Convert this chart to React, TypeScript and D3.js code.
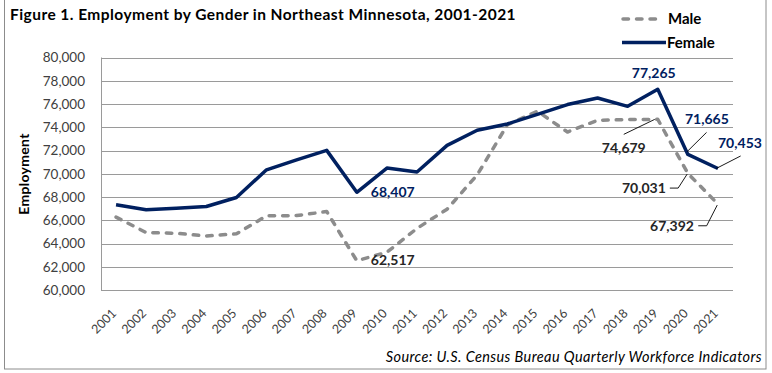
import React, { useRef, useEffect } from "react";
import * as d3 from "d3";

const WIDTH = 772;
const HEIGHT = 373;
const MARGIN = { top: 57.5, right: 39, bottom: 83, left: 101 };

const YEARS = [
  "2001", "2002", "2003", "2004", "2005", "2006", "2007", "2008", "2009", "2010", "2011",
  "2012", "2013", "2014", "2015", "2016", "2017", "2018", "2019", "2020", "2021",
];
const MALE = [
  66270, 64940, 64880, 64650, 64830, 66380, 66400, 66750, 62517, 63250, 65300,
  66950, 69900, 74200, 75380, 73590, 74600, 74660, 74679, 70031, 67392,
];
const FEMALE = [
  67330, 66900, 67040, 67180, 67960, 70340, 71200, 72010, 68407, 70490, 70150,
  72440, 73740, 74280, 75110, 75950, 76520, 75800, 77265, 71665, 70453,
];
const Y_TICKS = [60000, 62000, 64000, 66000, 68000, 70000, 72000, 74000, 76000, 78000, 80000];

const COLOR_FEMALE = "#002060";
const COLOR_MALE = "#8c8c8c";
const COLOR_GRID = "#9a9a9a";
const COLOR_TEXT = "#404040";
const FONT = "Lato, 'Open Sans', sans-serif";

// data labels: which point, then where the text and its leader sit relative to it
const LABELS = [
  { series: "female", year: "2019", dx: -4, dy: -11, anchor: "middle", leader: null },
  { series: "female", year: "2009", dx: 14, dy: 4.5, anchor: "start", leader: null },
  { series: "male", year: "2009", dx: 14, dy: 4, anchor: "start", leader: null },
  { series: "male", year: "2019", dx: -12, dy: 33.5, anchor: "end", leader: [[-34, 15], [-3, 0]] },
  { series: "male", year: "2020", dx: -22, dy: 20, anchor: "end", leader: [[-18, 14.7], [-9.7, 14.7], [-0.7, 0.7]] },
  { series: "male", year: "2021", dx: -24, dy: 26.7, anchor: "end", leader: [[-19.7, 21.7], [-11.3, 21.7], [-0.7, 1]] },
  { series: "female", year: "2020", dx: 19, dy: -30, anchor: "middle", leader: [[18.7, -22], [-0.7, -2.8]] },
  { series: "female", year: "2021", dx: 22, dy: -20, anchor: "middle", leader: [[22.7, -12.5], [-1.7, 0]] },
];

export default function App() {
  const ref = useRef<SVGSVGElement>(null);

  useEffect(() => {
    const svg = d3.select(ref.current);
    svg.selectAll("*").remove();

    const innerWidth = WIDTH - MARGIN.left - MARGIN.right;
    const innerHeight = HEIGHT - MARGIN.top - MARGIN.bottom;

    const x = d3.scaleBand().domain(YEARS).range([MARGIN.left, MARGIN.left + innerWidth]);
    const y = d3.scaleLinear().domain([60000, 80000]).range([MARGIN.top + innerHeight, MARGIN.top]);
    const cx = (yr: string) => (x(yr) as number) + x.bandwidth() / 2;

    svg
      .append("rect")
      .attr("x", 4.5)
      .attr("y", -1)
      .attr("width", 761.5)
      .attr("height", 370)
      .attr("fill", "#fff")
      .attr("stroke", COLOR_MALE);

    // gridlines
    svg
      .append("g")
      .selectAll("line")
      .data(Y_TICKS)
      .enter()
      .append("line")
      .attr("x1", MARGIN.left)
      .attr("x2", MARGIN.left + innerWidth)
      .attr("y1", (d) => Math.round(y(d)) + 0.5)
      .attr("y2", (d) => Math.round(y(d)) + 0.5)
      .attr("stroke", COLOR_GRID)
      .attr("stroke-width", 1);

    svg
      .append("line")
      .attr("x1", MARGIN.left + 0.5)
      .attr("x2", MARGIN.left + 0.5)
      .attr("y1", y(80000))
      .attr("y2", y(60000))
      .attr("stroke", COLOR_GRID);

    // y axis labels
    const yAxis = d3
      .axisLeft(y)
      .tickValues(Y_TICKS)
      .tickSize(0)
      .tickPadding(16)
      .tickFormat(d3.format(","));
    svg
      .append("g")
      .attr("transform", `translate(${MARGIN.left},0)`)
      .call(yAxis)
      .call((g) => {
        g.select(".domain").remove();
        g.selectAll("text")
          .attr("font-family", FONT)
          .attr("font-size", 13.5)
          .attr("fill", COLOR_TEXT);
      });

    // x axis labels, rotated
    svg
      .append("g")
      .selectAll("text")
      .data(YEARS)
      .enter()
      .append("text")
      .attr("transform", (d) => `translate(${cx(d) + 1},314) rotate(-45)`)
      .attr("text-anchor", "end")
      .attr("font-family", FONT)
      .attr("font-size", 12.5)
      .attr("fill", COLOR_TEXT)
      .text((d) => d);

    const line = d3
      .line<number>()
      .x((d, i) => cx(YEARS[i]))
      .y((d) => y(d));

    svg
      .append("path")
      .datum(MALE)
      .attr("fill", "none")
      .attr("stroke", COLOR_MALE)
      .attr("stroke-width", 3.5)
      .attr("stroke-dasharray", "5.5 8")
      .attr("stroke-linecap", "round")
      .attr("stroke-linejoin", "round")
      .attr("d", line);

    svg
      .append("path")
      .datum(FEMALE)
      .attr("fill", "none")
      .attr("stroke", COLOR_FEMALE)
      .attr("stroke-width", 3.5)
      .attr("stroke-linejoin", "round")
      .attr("d", line);

    // data labels
    LABELS.forEach((l) => {
      const values = l.series === "male" ? MALE : FEMALE;
      const i = YEARS.indexOf(l.year);
      const px = cx(l.year);
      const py = y(values[i]);
      if (l.leader) {
        svg
          .append("path")
          .attr("d", d3.line()(l.leader.map(([a, b]) => [px + a, py + b] as [number, number])))
          .attr("fill", "none")
          .attr("stroke", "#000")
          .attr("stroke-width", 0.9);
      }
      svg
        .append("text")
        .attr("x", px + l.dx)
        .attr("y", py + l.dy)
        .attr("text-anchor", l.anchor)
        .attr("font-family", FONT)
        .attr("font-size", 14)
        .attr("font-weight", 700)
        .attr("fill", l.series === "male" ? "#262626" : COLOR_FEMALE)
        .text(d3.format(",")(values[i]));
    });

    // title
    svg
      .append("text")
      .attr("x", 10)
      .attr("y", 19.5)
      .attr("font-family", FONT)
      .attr("font-size", 15.5)
      .attr("font-weight", 700)
      .attr("letter-spacing", 0.45)
      .attr("fill", "#000")
      .text("Figure 1. Employment by Gender in Northeast Minnesota, 2001-2021");

    // legend
    const legend = svg.append("g").attr("font-family", FONT).attr("font-size", 15).attr("font-weight", 700);
    legend
      .append("line")
      .attr("x1", 623)
      .attr("x2", 659)
      .attr("y1", 19)
      .attr("y2", 19)
      .attr("stroke", COLOR_MALE)
      .attr("stroke-width", 3.5)
      .attr("stroke-dasharray", "5.5 8")
      .attr("stroke-linecap", "round");
    legend.append("text").attr("x", 668).attr("y", 24).attr("fill", "#000").text("Male");
    legend
      .append("line")
      .attr("x1", 622)
      .attr("x2", 666)
      .attr("y1", 42.5)
      .attr("y2", 42.5)
      .attr("stroke", COLOR_FEMALE)
      .attr("stroke-width", 3.5);
    legend.append("text").attr("x", 667).attr("y", 47.5).attr("fill", "#000").text("Female");

    // y axis title
    svg
      .append("text")
      .attr("transform", `translate(29,174) rotate(-90)`)
      .attr("text-anchor", "middle")
      .attr("font-family", FONT)
      .attr("font-size", 14)
      .attr("font-weight", 700)
      .attr("letter-spacing", 0.3)
      .attr("fill", "#000")
      .text("Employment");

    // source
    svg
      .append("text")
      .attr("x", 762)
      .attr("y", 362)
      .attr("text-anchor", "end")
      .attr("font-family", FONT)
      .attr("font-size", 14.5)
      .attr("font-style", "italic")
      .attr("letter-spacing", 0.4)
      .attr("fill", "#000")
      .text("Source: U.S. Census Bureau Quarterly Workforce Indicators");
  }, []);

  return (
    <svg
      ref={ref}
      width={WIDTH}
      height={HEIGHT}
      style={{ position: "absolute", left: 0, top: 0, background: "#fff" }}
    />
  );
}
